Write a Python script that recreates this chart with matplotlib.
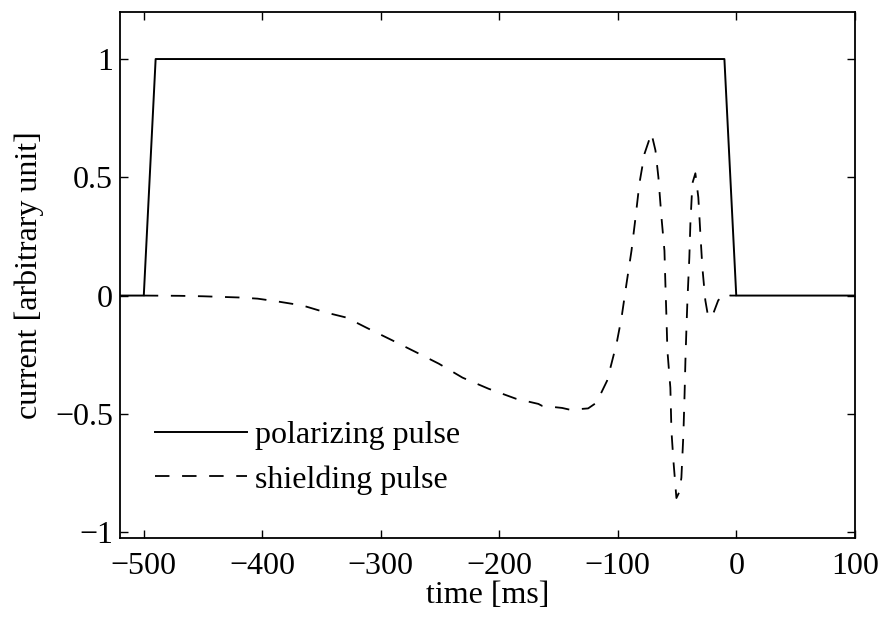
import numpy as np
import matplotlib
matplotlib.use('Agg')
import matplotlib.pyplot as plt
from matplotlib.ticker import FuncFormatter

# polarizing pulse (trapezoid)
t_pol = [-520, -500, -490, -10, 0, 100]
i_pol = [0, 0, 1, 1, 0, 0]

# shielding pulse
t_shield = [-500, -470, -450, -420, -404, -387, -366, -346, -329, -312, -290, -270,
            -251, -231, -209, -186, -167, -164, -147, -140, -125, -118, -109, -101,
            -96.8, -92.6, -88.4, -85, -81.7, -77.4, -71.6, -68.2, -65.7, -63.1, -60.6,
            -59.8, -58.9, -58.1, -55.6, -54.7, -53, -50.5, -48, -46.3, -44.6, -43.6,
            -42.9, -42.1, -41.2, -39.6, -38.7, -37, -34.5, -32, -30.3, -28.6, -26.1,
            -23.6, -19.4, -15.2, -9.3, -5, 0]
i_shield = [0, -0.001, -0.003, -0.008, -0.013, -0.025, -0.042, -0.072, -0.093, -0.136,
            -0.19, -0.24, -0.288, -0.347, -0.394, -0.436, -0.458, -0.466, -0.475, -0.483,
            -0.477, -0.453, -0.36, -0.203, -0.093, 0.051, 0.19, 0.33, 0.475, 0.60, 0.686,
            0.614, 0.50, 0.33, 0.19, 0.05, -0.093, -0.233, -0.39, -0.572, -0.70, -0.856,
            -0.83, -0.77, -0.585, -0.415, -0.275, -0.148, -0.02, 0.16, 0.305, 0.475,
            0.517, 0.415, 0.263, 0.119, -0.02, -0.093, -0.076, -0.02, 0.008, 0.0, 0.0]

x_ticks = [-500, -400, -300, -200, -100, 0, 100]
y_ticks = [-1, -0.5, 0, 0.5, 1]

plt.rcParams['font.family'] = ['Liberation Serif', 'DejaVu Serif']

fig = plt.figure(figsize=(8.83, 6.17), dpi=100)
ax = fig.add_axes([0.136, 0.128, 0.832, 0.853])

ax.plot(t_pol, i_pol, color='black', linewidth=1.4, label='polarizing pulse')
ax.plot(t_shield, i_shield, color='black', linewidth=1.3, dashes=(8, 7),
        label='shielding pulse')

ax.set_xlim(-520, 100)
ax.set_ylim(-1.025, 1.2)
ax.set_xticks(x_ticks)
ax.set_yticks(y_ticks)


def fmt(v, pos):
    s = ('%g' % v)
    return s.replace('-', '\u2212')


ax.xaxis.set_major_formatter(FuncFormatter(fmt))
ax.yaxis.set_major_formatter(FuncFormatter(fmt))
ax.tick_params(direction='in', length=6, width=1, top=True, right=True,
               labelsize=23)
ax.tick_params(axis='x', pad=10)
ax.tick_params(axis='y', pad=5)
for sp in ax.spines.values():
    sp.set_linewidth(1.3)

ax.set_xlabel('time [ms]', fontsize=23, labelpad=0)
ax.set_ylabel('current [arbitrary unit]', fontsize=23, labelpad=8)

ax.legend(loc='lower left', bbox_to_anchor=(0.008, 0.028), frameon=False,
          fontsize=23, handlelength=2.9, handletextpad=0.25, labelspacing=0.46)

fig.savefig('out.png', dpi=100)
